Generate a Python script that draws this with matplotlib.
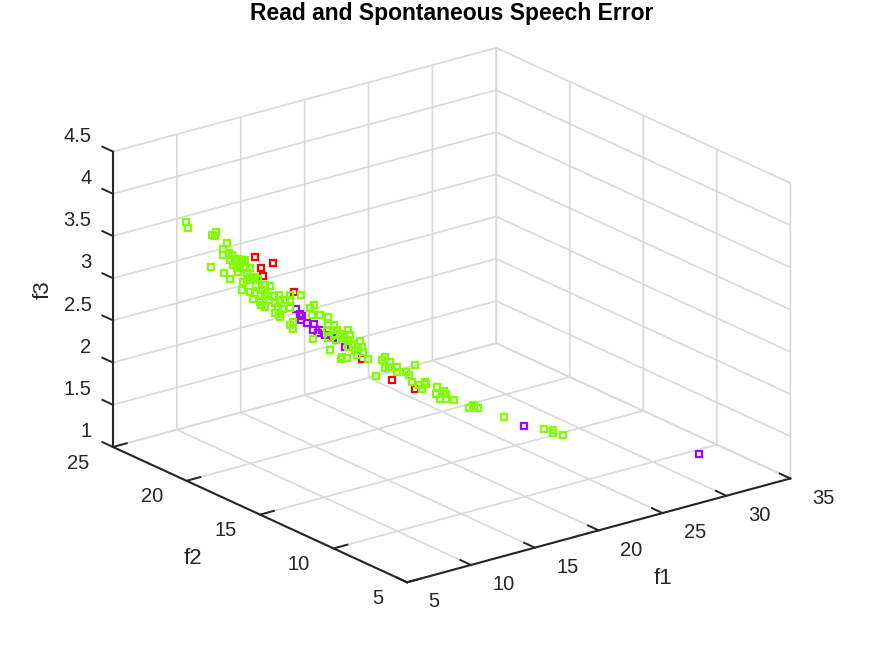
import matplotlib
matplotlib.use('Agg')
import matplotlib.pyplot as plt
from mpl_toolkits.mplot3d import proj3d

plt.rcParams['font.family'] = ['Liberation Sans', 'DejaVu Sans']

# points (f1, f2, f3)
green_f1 = [8.03, 8.12, 9.35, 9.17, 9.31, 9.83, 9.67, 9.67, 9.92, 10.07, 9.97, 10.33, 10.18, 10.48, 10.62, 10.40, 10.26, 10.62, 10.33, 9.12,
            9.70, 9.97, 10.70, 10.84, 10.72, 11.06, 10.98, 11.20, 10.48, 11.10, 11.50, 11.71, 11.06, 10.98, 11.31, 11.60, 11.86, 12.08, 11.64, 12.59,
            12.37, 11.28, 11.50, 12.15, 12.59, 13.05, 11.31, 11.50, 12.03, 12.29, 12.56, 11.93, 12.15, 12.08, 12.59, 12.71, 12.72, 13.64, 13.46, 13.54,
            13.90, 14.22, 14.22, 14.51, 14.19, 14.63, 15.13, 14.26, 14.55, 14.77, 14.92, 15.13, 13.58, 14.34, 15.35, 15.43, 14.85, 15.06, 15.50, 14.77,
            15.35, 15.65, 15.72, 15.79, 14.80, 15.98, 16.74, 16.59, 16.96, 16.74, 16.88, 17.25, 17.25, 16.33, 18.05, 17.66, 17.76, 17.90, 18.19, 18.49,
            18.34, 19.00, 18.97, 18.53, 19.29, 19.40, 19.14, 19.39, 19.72, 20.57, 20.41, 20.77, 20.60, 21.94, 23.68, 24.06, 24.06, 24.51, 15.13,
            10.10, 10.84, 10.53, 11.36, 10.84, 11.93, 15.21, 14.60, 15.56]
green_f2 = [22.68, 22.62, 21.77, 21.90, 21.80, 21.44, 21.55, 21.55, 21.38, 21.28, 21.35, 21.10, 21.20, 20.99, 20.90, 21.05, 21.14, 20.90, 21.10, 21.93,
            21.53, 21.35, 20.84, 20.74, 20.83, 20.59, 20.65, 20.50, 20.99, 20.56, 20.29, 20.14, 20.59, 20.65, 20.42, 20.22, 20.04, 19.89, 20.19, 19.54,
            19.69, 20.44, 20.29, 19.84, 19.54, 19.22, 20.42, 20.29, 19.92, 19.74, 19.56, 19.99, 19.84, 19.89, 19.54, 19.46, 19.45, 18.82, 18.94, 18.89,
            18.64, 18.42, 18.42, 18.22, 18.44, 18.14, 17.79, 18.39, 18.19, 18.04, 17.94, 17.79, 18.86, 18.34, 17.64, 17.59, 17.99, 17.84, 17.54, 18.04,
            17.64, 17.44, 17.38, 17.34, 18.02, 17.20, 16.68, 16.78, 16.53, 16.68, 16.58, 16.33, 16.33, 16.96, 15.78, 16.05, 15.98, 15.88, 15.68, 15.48,
            15.58, 15.13, 15.15, 15.45, 14.93, 14.85, 15.03, 14.86, 14.63, 14.05, 14.16, 13.91, 14.03, 13.10, 11.90, 11.64, 11.64, 11.33, 17.79,
            21.26, 20.74, 20.96, 20.38, 20.74, 19.99, 17.74, 18.16, 17.50]
green_f3 = [3.73, 3.66, 3.63, 3.59, 3.58, 3.50, 3.43, 3.36, 3.39, 3.36, 3.30, 3.32, 3.29, 3.31, 3.31, 3.26, 3.21, 3.22, 3.17, 3.21,
            3.15, 3.08, 3.16, 3.12, 3.08, 3.12, 3.08, 3.10, 2.96, 3.03, 3.03, 3.02, 2.93, 2.86, 2.91, 2.90, 2.91, 2.92, 2.85, 2.93,
            2.86, 2.83, 2.92, 2.86, 2.87, 2.93, 2.79, 2.77, 2.78, 2.76, 2.77, 2.71, 2.66, 2.70, 2.57, 2.52, 2.61, 2.82, 2.79, 2.70,
            2.71, 2.69, 2.59, 2.60, 2.53, 2.54, 2.55, 2.44, 2.48, 2.50, 2.45, 2.43, 2.42, 2.30, 2.37, 2.31, 2.22, 2.22, 2.26, 2.48,
            2.39, 2.42, 2.36, 2.30, 2.20, 2.22, 2.25, 2.21, 2.20, 2.12, 2.14, 2.14, 2.08, 2.02, 2.17, 2.09, 2.05, 1.97, 1.94, 1.98,
            1.90, 1.93, 1.85, 1.96, 1.89, 1.85, 1.79, 1.79, 1.79, 1.74, 1.70, 1.71, 1.72, 1.62, 1.50, 1.49, 1.45, 1.44, 2.35,
            3.25, 3.22, 3.05, 2.97, 2.94, 2.82, 2.49, 2.42, 2.35]

purple_f1 = [12.85, 13.02, 13.10, 13.07, 13.32, 13.61, 13.58, 13.97, 13.80, 14.12, 14.45, 14.99, 22.81, 30.46]
purple_f2 = [19.36, 19.24, 19.19, 19.21, 19.04, 18.84, 18.86, 18.59, 18.71, 18.49, 18.26, 17.89, 12.50, 7.24]
purple_f3 = [2.76, 2.71, 2.68, 2.64, 2.61, 2.60, 2.53, 2.53, 2.49, 2.47, 2.44, 2.34, 1.52, 1.30]

red_f1 = [11.06, 11.83, 11.32, 11.41, 12.73, 15.72, 17.03, 18.05]
red_f2 = [20.59, 20.06, 20.41, 20.35, 19.44, 17.38, 16.48, 15.78]
red_f3 = [3.36, 3.29, 3.23, 3.13, 2.96, 2.21, 1.98, 1.89]

f1_ticks = [5, 10, 15, 20, 25, 30, 35]
f2_ticks = [5, 10, 15, 20, 25]
f3_ticks = [1, 1.5, 2, 2.5, 3, 3.5, 4, 4.5]
f3_labels = ['1', '1.5', '2', '2.5', '3', '3.5', '4', '4.5']

W, H = 873, 654
TEXT = '#262626'
fig = plt.figure(figsize=(W / 100, H / 100), dpi=100)
side = 730.6
ax = fig.add_axes([76.5 / W, -36.2 / H, side / W, side / H], projection='3d', proj_type='ortho')
ax.view_init(elev=20.67, azim=-127.5)
ax.set_box_aspect((482, 482, 315))
ax.computed_zorder = False

for f1, f2, f3, col, z in [(red_f1, red_f2, red_f3, '#ff0000', 3),
                           (purple_f1, purple_f2, purple_f3, '#aa00ff', 4),
                           (green_f1, green_f2, green_f3, '#7fff00', 5)]:
    ax.plot(f1, f2, f3, linestyle='none', marker='s', mfc='none', mec=col, ms=5, mew=1.6, zorder=z)

ax.set_xlim(5, 35)
ax.set_ylim(5, 25)
ax.set_zlim(1, 4.5)
ax.set_xticks(f1_ticks)
ax.set_yticks(f2_ticks)
ax.set_zticks(f3_ticks)
ax.set_xticklabels([])
ax.set_yticklabels([])
ax.set_zticklabels([])
ax.zaxis._get_tickdir = lambda position: 1  # z ticks run along f2 in the reference

for axis in (ax.xaxis, ax.yaxis, ax.zaxis):
    axis.set_pane_color((1, 1, 1, 0))
    axis.pane.set_edgecolor((1, 1, 1, 0))
    axis.line.set_color(TEXT)
    axis.line.set_linewidth(1.5)
    axis._axinfo['grid'].update(color='#d9d9d9', linewidth=1.2, linestyle='-')
    axis._axinfo['tick'].update(inward_factor=0, outward_factor=0.45, linewidth={True: 1.4, False: 1.4})
ax.tick_params(colors=TEXT)


def label3d(x, y, z, s, **kw):
    """mplot3d pushes its own labels too far down, so project the spot and draw plain text"""
    px, py, _ = proj3d.proj_transform(x, y, z, ax.get_proj())
    ax.text2D(px, py, s, transform=ax.transData, va='center', color=TEXT, clip_on=False, **kw)


for v in f1_ticks:
    label3d(v, 3.53, 0.885, str(v), ha='left', fontsize=14.5)
for v in f2_ticks:
    label3d(3.16, v, 0.885, str(v), ha='right', fontsize=14.5)
for v, s in zip(f3_ticks, f3_labels):
    label3d(5, 26.46, v + 0.065, s, ha='right', fontsize=14.5)
label3d(20, 0.6, 0.783, 'f1', ha='center', fontsize=16)
label3d(-0.24, 15, 0.693, 'f2', ha='center', fontsize=16)
label3d(5, 29.77, 2.477, 'f3', ha='center', fontsize=16, rotation=90)

fig.text(451.5 / W, 1 - 13.5 / H, 'Read and Spontaneous Speech Error', ha='center', va='center',
         fontsize=16.5, fontweight='bold', color='black')

fig.savefig('out.png', dpi=100)
